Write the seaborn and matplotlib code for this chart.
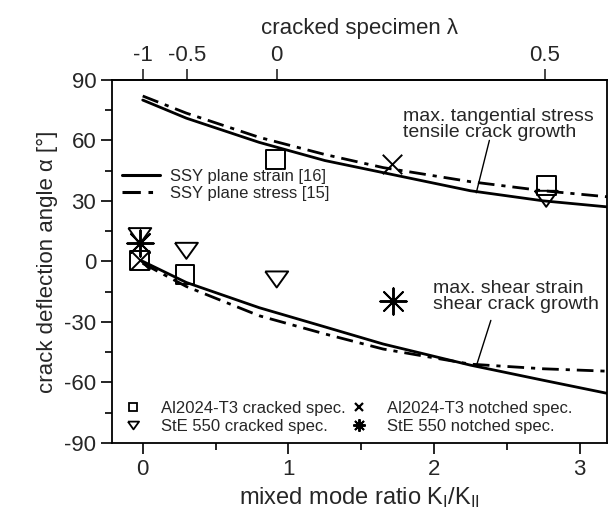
import numpy as np
import matplotlib
matplotlib.use("Agg")
import matplotlib.pyplot as plt
from matplotlib.lines import Line2D
import seaborn as sns

# theory curves (SSY), x = K_I/K_II
ratio_curve = [0.0, 0.3, 0.8, 1.25, 1.65, 2.25, 2.75, 3.19]
tens_strain = [80.0, 71.0, 59.0, 50.0, 44.0, 35.0, 30.0, 27.0]
tens_stress = [82.0, 73.5, 61.5, 53.0, 46.5, 39.5, 35.0, 32.0]
shear_strain = [0.0, -10.5, -23.0, -32.5, -41.0, -51.5, -59.0, -65.5]
shear_stress = [-1.0, -12.5, -27.0, -36.0, -43.5, -51.0, -53.3, -54.5]

# experiments
al_crack_x = [-0.02, 0.29, 0.91, 2.77]
al_crack_y = [0.3, -6.7, 50.6, 37.6]
ste_crack_x = [-0.02, 0.30, 0.92, 2.77]
ste_crack_y = [12.5, 5.2, -9.0, 31.0]
al_notch_x = [-0.02, 1.71]
al_notch_y = [0.5, 48.2]
ste_notch_x = [-0.02, 1.72]
ste_notch_y = [9.0, -19.8]

lam_ticks = [-1, -0.5, 0, 0.5]
lam_labels = ["-1", "-0.5", "0", "0.5"]
c_lam = 0.92  # K_I/K_II = c (1+lambda)/(1-lambda)

sns.set_style("ticks")
plt.rcParams["font.family"] = ["Liberation Sans", "DejaVu Sans"]
plt.rcParams["mathtext.fontset"] = "custom"
plt.rcParams["mathtext.rm"] = "Liberation Sans"
plt.rcParams["mathtext.it"] = "Liberation Sans"
plt.rcParams["axes.unicode_minus"] = False

fig = plt.figure(figsize=(6.16, 5.29), dpi=100)
ax = fig.add_axes([0.182, 0.163, 0.804, 0.686])

dashdot = (0, (6, 2.5, 1.5, 2.5))
sns.lineplot(x=ratio_curve, y=tens_strain, ax=ax, color="black", lw=2, sort=False)
sns.lineplot(x=ratio_curve, y=tens_stress, ax=ax, color="black", lw=2, linestyle=dashdot, sort=False)
sns.lineplot(x=ratio_curve, y=shear_strain, ax=ax, color="black", lw=2, sort=False)
sns.lineplot(x=ratio_curve, y=shear_stress, ax=ax, color="black", lw=2, linestyle=dashdot, sort=False)

tri = [(-1, 0.7), (1, 0.7), (0, -0.7), (-1, 0.7)]
sns.scatterplot(x=al_crack_x, y=al_crack_y, ax=ax, marker="s", s=13.5**2,
                facecolor="none", edgecolor="black", linewidth=1.4, zorder=5)
sns.scatterplot(x=ste_crack_x, y=ste_crack_y, ax=ax, marker=tri, s=16.5**2,
                facecolor="none", edgecolor="black", linewidth=1.4, zorder=5)
sns.scatterplot(x=al_notch_x, y=al_notch_y, ax=ax, marker="x", s=14**2,
                color="black", linewidth=1.4, zorder=5)
sns.scatterplot(x=ste_notch_x, y=ste_notch_y, ax=ax, marker=(8, 2, 0), s=19**2,
                color="black", linewidth=1.4, zorder=5)

ax.set_xlim(-0.21, 3.19)
ax.set_ylim(-90, 90)
ax.set_xticks([0, 1, 2, 3])
ax.set_xticks([0.5, 1.5, 2.5], minor=True)
ax.set_yticks([-90, -60, -30, 0, 30, 60, 90])
ax.set_yticks([-75, -45, -15, 15, 45, 75], minor=True)
ax.tick_params(which="major", direction="out", length=8, width=1.2, labelsize=16, color="black")
ax.tick_params(which="minor", direction="out", length=5, width=1.2, color="black")
for sp in ax.spines.values():
    sp.set_visible(True)
    sp.set_linewidth(1.3)
    sp.set_color("black")

ax.set_xlabel(r"mixed mode ratio K$_\mathrm{I}$/K$_\mathrm{II}$", fontsize=17, labelpad=4)
ax.set_ylabel("crack deflection angle α [°]", fontsize=16, labelpad=4)


def to_lam(r):
    r = np.asarray(r, dtype=float)
    with np.errstate(divide="ignore", invalid="ignore"):
        return (r - c_lam) / (r + c_lam)


def to_ratio(lam):
    lam = np.asarray(lam, dtype=float)
    with np.errstate(divide="ignore", invalid="ignore"):
        return c_lam * (1 + lam) / (1 - lam)


top = ax.secondary_xaxis("top", functions=(to_lam, to_ratio))
top.set_xticks(lam_ticks)
top.set_xticklabels(lam_labels)
top.tick_params(direction="out", length=8, width=1.2, labelsize=16, pad=2)
top.spines["top"].set_linewidth(1.3)
top.set_xlabel("cracked specimen λ", fontsize=16, labelpad=8)

ax.text(1.79, 68, "max. tangential stress\ntensile crack growth", fontsize=14,
        ha="left", va="center", linespacing=0.95)
ax.plot([2.38, 2.29], [60, 34], color="black", lw=1)
ax.text(1.99, -17.6, "max. shear strain\nshear crack growth", fontsize=14,
        ha="left", va="center", linespacing=0.95)
ax.plot([2.39, 2.29], [-29.3, -52], color="black", lw=1)

line_handles = [
    Line2D([], [], color="black", lw=2.2),
    Line2D([], [], color="black", lw=2.2, linestyle=dashdot),
]
leg1 = ax.legend(line_handles, ["SSY plane strain [16]", "SSY plane stress [15]"],
                 loc="upper left", bbox_to_anchor=(0.02, 0.755), frameon=False,
                 fontsize=12, handlelength=2.3, handletextpad=0.6,
                 labelspacing=0.15, borderpad=0, borderaxespad=0)
ax.add_artist(leg1)

mk_handles = [
    Line2D([], [], ls="none", marker="s", ms=6, mfc="none", mec="black", mew=1.3),
    Line2D([], [], ls="none", marker=tri, ms=8, mfc="none", mec="black", mew=1.3),
    Line2D([], [], ls="none", marker="x", ms=6, color="black", mew=1.6),
    Line2D([], [], ls="none", marker=(8, 2, 0), ms=9, color="black", mew=1.4),
]
mk_labels = ["Al2024-T3 cracked spec.", "StE 550 cracked spec.",
             "Al2024-T3 notched spec.", "StE 550 notched spec."]
ax.legend(mk_handles, mk_labels, ncol=2, loc="lower left", bbox_to_anchor=(0.025, 0.025),
          frameon=False, fontsize=12, handlelength=1.0, handletextpad=1.2,
          columnspacing=0.3, labelspacing=0.15, borderpad=0, borderaxespad=0)

fig.savefig("out.png", dpi=100)
